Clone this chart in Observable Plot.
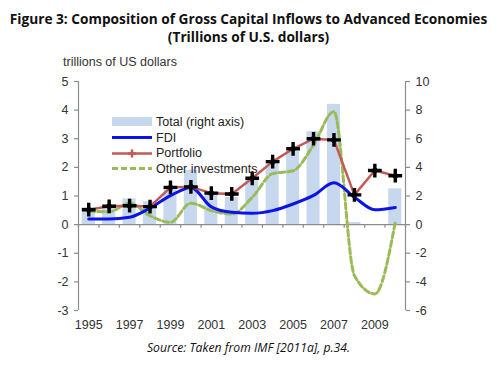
<!DOCTYPE html>
<html><head><meta charset="utf-8">
<script src="https://cdn.jsdelivr.net/npm/d3@7"></script>
<script src="https://cdn.jsdelivr.net/npm/@observablehq/plot@0.6"></script>
<style>
body{margin:0;background:#fff;width:497px;height:367px;overflow:hidden;position:relative;font-family:"Liberation Sans",Arial,sans-serif;}
#title{position:absolute;left:0;top:10px;width:497px;text-align:center;font-family:"Open Sans",sans-serif;font-weight:bold;font-size:13.7px;line-height:18px;color:#111;}
#ylab{position:absolute;left:63px;top:55px;font-size:12.5px;color:#333;}
#chart{position:absolute;left:0;top:50px;}
#legend{position:absolute;left:112px;top:114px;font-size:12.5px;color:#222;}
#legend .row{height:15.7px;display:flex;align-items:center;}
#legend svg{margin-right:4px;}
#source{position:absolute;left:0;top:339px;width:497px;text-align:center;font-family:"Open Sans",sans-serif;font-style:italic;font-size:12.2px;color:#111;}
</style></head>
<body>
<div id="title">Figure 3: Composition of Gross Capital Inflows to Advanced Economies<br>(Trillions of U.S. dollars)</div>
<div id="ylab">trillions of US dollars</div>
<div id="chart"></div>
<div id="legend"></div>
<div id="source">Source: Taken from IMF [2011a], p.34.</div>
<script>
const years = [1995,1996,1997,1998,1999,2000,2001,2002,2003,2004,2005,2006,2007,2008,2009,2010];
const fdi = [0.2,0.2,0.26,0.58,1.01,1.3,0.62,0.43,0.40,0.49,0.72,1.02,1.46,0.96,0.52,0.60];
const portfolio = [0.52,0.64,0.66,0.63,1.30,1.32,1.10,1.07,1.62,2.20,2.65,3.00,2.96,1.04,1.89,1.71];
const other = [0.47,0.45,0.75,0.31,0.08,0.75,0.49,0.37,0.95,1.78,1.88,2.78,3.95,-1.78,-2.42,0.08];
const totalRight = [1.2,1.3,1.8,1.6,2.5,3.8,2.2,1.9,3.1,4.4,5.1,6.5,8.4,0.15,0.0,2.5];
const leftTicks = [-3,-2,-1,0,1,2,3,4,5];
const yearLabels = [1995,1997,1999,2001,2003,2005,2007,2009];

const data = years.map((y,i)=>({year:y,fdi:fdi[i],portfolio:portfolio[i],other:other[i],total:totalRight[i]}));
const bounds = d3.range(1994.5, 2011, 1);

const colors = {bar:"#c7d7ee", fdi:"#0a14e6", port:"#c25a58", other:"#9bbb59"};
const axisColor = "#8c8c8c";

const plot = Plot.plot({
  width:497, height:285,
  marginLeft:78, marginRight:92, marginTop:31, marginBottom:25,
  x:{type:"linear", domain:[1994.5,2010.5], axis:null},
  y:{domain:[-3,5], axis:null},
  style:{fontFamily:"'Liberation Sans', Arial, sans-serif", fontSize:"12.5px", color:"#333"},
  marks:[
    Plot.rectY(data,{x1:d=>d.year-0.32, x2:d=>d.year+0.32, y1:0, y2:d=>d.total/2, fill:colors.bar}),
    Plot.ruleY([0],{stroke:axisColor, strokeWidth:1.2}),
    Plot.ruleX(bounds,{x:d=>d, y1:0, y2:-0.13, stroke:axisColor, strokeWidth:1.2}),
    Plot.axisY(leftTicks,{anchor:"left", tickSize:4, tickPadding:6, tickFormat:d=>String(d), stroke:axisColor, strokeWidth:1.2, fill:"#333", label:null, fontSize:12.5}),
    Plot.ruleX([1994.5],{y1:-3, y2:5, stroke:axisColor, strokeWidth:1.2}),
    Plot.axisY(leftTicks,{anchor:"right", tickSize:4, tickPadding:6, tickFormat:d=>String(d*2), stroke:axisColor, strokeWidth:1.2, fill:"#333", label:null, fontSize:12.5}),
    Plot.ruleX([2010.5],{y1:-3, y2:5, stroke:axisColor, strokeWidth:1.2}),
    Plot.axisX(yearLabels,{anchor:"bottom", tickSize:0, tickPadding:10, tickFormat:d=>String(d), fill:"#333", label:null, fontSize:12.5}),
    Plot.line(data,{x:"year", y:"other", stroke:colors.other, strokeWidth:3, strokeDasharray:"6,3", curve:"monotone-x"}),
    Plot.line(data,{x:"year", y:"fdi", stroke:colors.fdi, strokeWidth:3, curve:"monotone-x"}),
    Plot.line(data,{x:"year", y:"portfolio", stroke:colors.port, strokeWidth:2.5}),
    Plot.dot(data,{x:"year", y:"portfolio", symbol:"plus", r:4.5, stroke:"#000", strokeWidth:3.4}),
    Plot.dot(data,{x:"year", y:"portfolio", symbol:"diamond2", r:3.6, fill:"#000", stroke:"none"})
  ]
});
document.getElementById("chart").appendChild(plot);

const legendItems = [
  {label:"Total (right axis)", kind:"bar"},
  {label:"FDI", kind:"fdi"},
  {label:"Portfolio", kind:"port"},
  {label:"Other investments", kind:"other"}
];
const lg = document.getElementById("legend");
for (const it of legendItems) {
  const row = document.createElement("div"); row.className="row";
  let sw = "";
  if (it.kind==="bar") sw = `<rect x="0" y="3" width="40" height="9" fill="${colors.bar}"/>`;
  if (it.kind==="fdi") sw = `<line x1="0" x2="40" y1="7.5" y2="7.5" stroke="${colors.fdi}" stroke-width="3"/>`;
  if (it.kind==="port") sw = `<line x1="0" x2="40" y1="7.5" y2="7.5" stroke="${colors.port}" stroke-width="2.5"/><path d="M20,3.5V11.5M16,7.5H24" stroke="#c25a58" stroke-width="2.5"/>`;
  if (it.kind==="other") sw = `<line x1="0" x2="40" y1="7.5" y2="7.5" stroke="${colors.other}" stroke-width="3" stroke-dasharray="6,3"/>`;
  row.innerHTML = `<svg width="40" height="15">${sw}</svg><span>${it.label}</span>`;
  lg.appendChild(row);
}
</script>
</body></html>
